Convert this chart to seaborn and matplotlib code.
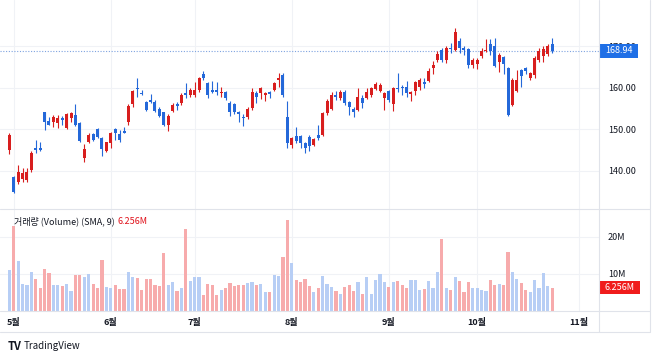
import numpy as np
import pandas as pd
import matplotlib
matplotlib.use("Agg")
import matplotlib.pyplot as plt
import matplotlib.transforms as mtransforms
from matplotlib.lines import Line2D
from matplotlib.patches import Rectangle
import seaborn as sns

# daily candles, 2024-04-30 .. 2024-10-24 (bar index 0..123)
opens = [145.1, 138.6, 137.4, 138.1, 137.8, 140.2, 145.6, 145.6, 154.1, 152.0,
         151.9, 151.5, 152.8, 150.4, 152.8, 153.5, 151.5, 143.2, 147.1, 148.8,
         150.0, 148.0, 144.8, 146.7, 150.0, 148.8, 149.7, 151.9, 156.1, 160.1,
         158.9, 156.6, 157.1, 156.7, 154.9, 154.1, 151.1, 154.5, 156.1, 156.3,
         158.9, 158.2, 158.2, 159.5, 163.3, 161.1, 159.5, 159.4, 158.7, 159.1,
         156.5, 156.1, 154.1, 153.1, 152.9, 155.1, 158.9, 158.7, 158.3, 159.1,
         159.5, 161.9, 163.1, 153.1, 146.3, 148.4, 148.4, 146.7, 148.3, 146.3,
         148.7, 148.7, 153.9, 154.9, 158.3, 157.7, 159.1, 156.6, 154.9, 154.7,
         157.7, 157.5, 158.3, 159.8, 159.3, 157.7, 159.3, 156.1, 160.1, 160.3,
         160.3, 158.6, 159.3, 160.3, 161.5, 161.7, 164.7, 166.8, 169.2, 166.8,
         169.7, 169.2, 171.3, 169.7, 169.4, 165.5, 165.7, 167.6, 168.8, 170.5,
         170.0, 166.3, 167.4, 164.9, 155.9, 159.3, 164.3, 164.7, 162.5, 163.1,
         166.8, 167.6, 168.1, 170.5]
closes = [148.7, 135.0, 139.8, 139.4, 139.8, 144.3, 145.1, 145.1, 151.9, 151.2,
          153.1, 152.7, 152.3, 153.7, 153.9, 151.2, 147.2, 145.3, 148.7, 147.5,
          148.3, 145.3, 146.9, 149.1, 149.1, 147.5, 149.2, 155.7, 159.3, 159.7,
          158.5, 154.7, 156.6, 154.5, 153.3, 151.1, 153.3, 155.9, 155.7, 158.3,
          158.3, 159.5, 159.5, 162.5, 162.3, 158.2, 159.1, 159.1, 159.1, 157.5,
          154.1, 154.1, 153.8, 152.7, 154.9, 159.1, 157.9, 160.1, 158.9, 158.5,
          161.1, 162.3, 158.3, 146.7, 148.0, 147.3, 146.7, 145.6, 145.9, 147.6,
          147.9, 153.9, 156.9, 158.3, 157.9, 159.1, 156.3, 155.5, 154.1, 157.9,
          156.3, 159.1, 159.9, 160.9, 160.7, 158.9, 157.1, 159.9, 159.7, 159.9,
          158.7, 159.1, 161.4, 161.9, 160.9, 164.1, 165.5, 168.1, 166.8, 169.6,
          169.4, 173.6, 169.7, 169.2, 165.5, 166.8, 166.8, 168.9, 169.2, 168.8,
          165.4, 168.0, 165.7, 153.5, 161.9, 161.9, 163.0, 164.1, 163.5, 167.2,
          168.9, 169.4, 170.0, 168.94]
highs = [149.1, 138.8, 141.5, 140.6, 140.8, 144.7, 147.5, 147.1, 154.3, 153.1,
         153.5, 153.5, 153.3, 154.0, 154.1, 156.1, 151.7, 146.4, 149.1, 149.1,
         150.3, 148.3, 147.1, 149.5, 150.3, 149.9, 150.7, 156.1, 159.5, 162.3,
         159.5, 156.9, 158.5, 157.1, 155.3, 154.3, 153.7, 156.3, 156.6, 158.7,
         161.1, 159.9, 161.5, 162.7, 164.1, 161.5, 161.7, 161.5, 160.3, 159.3,
         156.9, 156.5, 154.5, 153.7, 155.3, 160.1, 159.3, 160.3, 159.1, 159.2,
         161.5, 163.5, 163.5, 156.9, 148.3, 150.7, 148.7, 147.1, 148.7, 148.0,
         151.1, 154.1, 157.4, 159.1, 159.3, 159.5, 159.5, 156.9, 155.3, 160.1,
         158.3, 159.9, 160.3, 161.4, 161.1, 159.1, 159.5, 160.3, 163.5, 160.6,
         161.7, 159.3, 161.7, 162.3, 162.5, 164.9, 166.5, 168.8, 169.6, 170.2,
         170.8, 174.5, 172.0, 170.2, 169.6, 167.2, 167.2, 169.6, 171.8, 171.8,
         172.0, 168.4, 167.6, 165.1, 162.5, 164.3, 164.5, 165.1, 163.9, 167.6,
         169.6, 170.0, 170.5, 172.1]
lows = [144.0, 134.8, 136.8, 137.4, 137.4, 139.8, 144.3, 144.7, 149.9, 151.1,
        150.7, 150.3, 151.1, 150.2, 151.9, 150.9, 147.0, 142.1, 146.7, 147.2,
        147.9, 143.7, 144.5, 145.5, 147.5, 147.1, 149.1, 151.1, 155.3, 157.9,
        158.2, 154.5, 156.3, 154.1, 153.1, 150.8, 149.6, 154.1, 154.7, 155.9,
        157.5, 157.9, 157.9, 159.1, 161.9, 157.7, 158.7, 158.3, 157.9, 157.1,
        153.3, 153.7, 151.7, 150.9, 152.5, 154.7, 156.3, 157.4, 156.9, 157.5,
        159.3, 160.3, 157.9, 145.6, 145.6, 146.7, 145.6, 144.3, 144.8, 145.9,
        147.5, 148.5, 153.5, 154.6, 157.1, 157.1, 155.9, 153.5, 153.1, 154.5,
        155.1, 157.4, 157.9, 159.5, 159.1, 154.7, 156.7, 154.5, 159.1, 158.2,
        157.9, 156.9, 158.2, 159.5, 160.1, 161.5, 163.3, 166.2, 166.2, 165.9,
        168.4, 168.9, 168.4, 168.0, 164.7, 164.7, 164.6, 167.2, 168.6, 168.0,
        165.1, 163.9, 163.3, 153.3, 155.7, 159.1, 160.3, 163.3, 161.9, 162.3,
        166.3, 166.2, 167.6, 168.5]
# volume in millions
volumes_m = [10.9, 22.9, 13.3, 7.3, 7.0, 10.4, 8.6, 6.3, 11.4, 10.2,
             7.0, 7.0, 6.6, 7.3, 5.4, 9.6, 9.6, 9.0, 9.9, 7.2,
             6.1, 13.8, 6.5, 6.2, 7.1, 5.9, 5.9, 10.6, 9.1, 8.9,
             5.7, 8.6, 8.7, 7.1, 6.8, 15.5, 7.0, 7.8, 5.4, 6.2,
             22.1, 8.1, 9.0, 9.0, 4.3, 7.3, 7.0, 4.3, 5.7, 6.2,
             7.5, 6.6, 7.0, 7.0, 7.5, 7.9, 7.0, 7.3, 5.0, 5.0,
             9.6, 9.5, 14.4, 24.5, 12.9, 8.4, 7.9, 8.6, 6.8, 5.1,
             6.3, 9.5, 7.2, 6.4, 5.5, 4.6, 6.4, 7.0, 5.3, 7.8,
             4.7, 9.1, 4.6, 8.3, 10.0, 7.7, 6.4, 7.9, 8.1, 7.1,
             6.2, 8.3, 8.4, 5.6, 5.9, 8.1, 6.2, 10.5, 19.4, 6.2,
             5.6, 9.2, 8.1, 5.0, 7.7, 6.2, 6.2, 5.6, 5.3, 8.3,
             7.0, 7.3, 7.0, 15.8, 10.4, 8.7, 7.4, 5.7, 5.0, 8.3,
             6.2, 10.2, 6.7, 6.256]

month_pos = [1, 23, 42, 64, 86, 106, 129]
month_labels = ["5월", "6월", "7월", "8월", "9월", "10월", "11월"]
price_ticks = [140, 150, 160, 170]
vol_ticks = [10, 20]
last_price = 168.94
last_volume_label = "6.256M"

UP = "#d81e1e"
DOWN = "#2468d9"
VOL_UP = "#b7cef5"
VOL_DOWN = "#f7abac"
GRID = "#f0f2f6"
SEP = "#e0e3ea"
TEXT = "#131722"

sns.set_theme(style="white")
plt.rcParams["font.family"] = ["Noto Sans CJK KR", "DejaVu Sans"]

W, H = 658, 358
fig = plt.figure(figsize=(W / 100, H / 100), dpi=100)
fig.patch.set_facecolor("white")


def box(x0, y0, x1, y1):
    return [x0 / W, 1 - y1 / H, (x1 - x0) / W, (y1 - y0) / H]


ax_p = fig.add_axes(box(0, 0, 599, 209))
ax_v = fig.add_axes(box(0, 209, 599, 311))

idx = np.arange(len(closes))
o = np.array(opens)
c = np.array(closes)
rising = c >= o
colors = np.where(rising, UP, DOWN)

# candles
ax_p.vlines(idx, lows, highs, colors=colors, linewidth=0.8, zorder=3)
body = np.maximum(np.abs(c - o), 0.25)
ax_p.bar(idx, body, bottom=np.minimum(o, c), width=0.68, color=colors,
         linewidth=0, zorder=4)

# volume (korean style: red bars for falling candles)
vol_df = pd.DataFrame({"bar": idx, "volume": np.array(volumes_m) * 1e6,
                       "dir": np.where(rising, "up", "down")})
sns.barplot(data=vol_df, x="bar", y="volume", hue="dir",
            palette={"up": VOL_UP, "down": VOL_DOWN}, dodge=False, width=0.72,
            saturation=1, errorbar=None, legend=False, linewidth=0, ax=ax_v)

for ax in (ax_p, ax_v):
    ax.set_xlim(-2.1, 133.6)
    ax.set_xticks(month_pos)
    ax.grid(True, color=GRID, linewidth=0.8)
    ax.set_axisbelow(True)
    ax.yaxis.tick_right()
    ax.set_xlabel("")
    ax.set_ylabel("")
    for s in ax.spines.values():
        s.set_visible(False)
    ax.set_facecolor("none")

ax_p.set_ylim(130.84, 181.2)
ax_p.set_yticks(price_ticks)
ax_p.set_yticklabels([f"{v:.2f}" for v in price_ticks])
ax_p.tick_params(axis="x", labelbottom=False, length=0)
ax_p.tick_params(axis="y", length=0, pad=6.5, labelsize=6.5, labelcolor=TEXT)

ax_v.set_ylim(0, 27.4e6)
ax_v.set_yticks([v * 1e6 for v in vol_ticks])
ax_v.set_yticklabels([f"{v}M" for v in vol_ticks])
ax_v.set_xticklabels(month_labels)
ax_v.tick_params(axis="x", length=0, pad=5, labelsize=6.5, labelcolor=TEXT)
for t in ax_v.get_xticklabels():
    t.set_fontweight("bold")
ax_v.tick_params(axis="y", length=0, pad=6.5, labelsize=6.5, labelcolor=TEXT)

# last price line
ax_p.axhline(last_price, color="#7ea3e0", linewidth=0.8, linestyle=(0, (1, 1.5)), zorder=2)


def badge(ax, value, label, color, height_px, width_px):
    # fixed-size label box on the right axis, centred on the data value
    tr = mtransforms.blended_transform_factory(ax.transAxes, ax.transData)
    y0, y1 = ax.get_ylim()
    ax_h = ax.get_position().height * H
    half = (y1 - y0) / ax_h * height_px / 2
    w = width_px / (ax.get_position().width * W)
    ax.add_patch(Rectangle((1.0, value - half), w, 2 * half, transform=tr,
                           facecolor=color, edgecolor="none", clip_on=False, zorder=9))
    ax.text(1.0 + w / 2, value, label, transform=tr, ha="center", va="center",
            color="white", fontsize=6.5, clip_on=False, zorder=10)


badge(ax_p, last_price, f"{last_price:.2f}", "#1f6fe6", 14, 39)
badge(ax_v, volumes_m[-1] * 1e6, last_volume_label, "#f01c1c", 13, 41)

# panel separators
for y in (209, 311, 331.5):
    fig.add_artist(Line2D([0, 650 / W], [1 - y / H] * 2, color=SEP, linewidth=0.8))
for x in (599, 650):
    fig.add_artist(Line2D([x / W] * 2, [1 - 331.5 / H, 1], color=SEP, linewidth=0.8))

# indicator legend
fig.text(14 / W, 1 - 221.5 / H, "거래량 (Volume) (SMA, 9)", fontsize=6.5, color=TEXT, va="center")
fig.text(117 / W, 1 - 221.5 / H, last_volume_label, fontsize=6.5, color="#e0121b", va="center")

# watermark
fig.text(8 / W, 1 - 346 / H, "TV", fontsize=8, fontweight="black", color=TEXT, va="center")
fig.text(24 / W, 1 - 346 / H, "TradingView", fontsize=7, color=TEXT, va="center")

fig.savefig("out.png", dpi=100)
